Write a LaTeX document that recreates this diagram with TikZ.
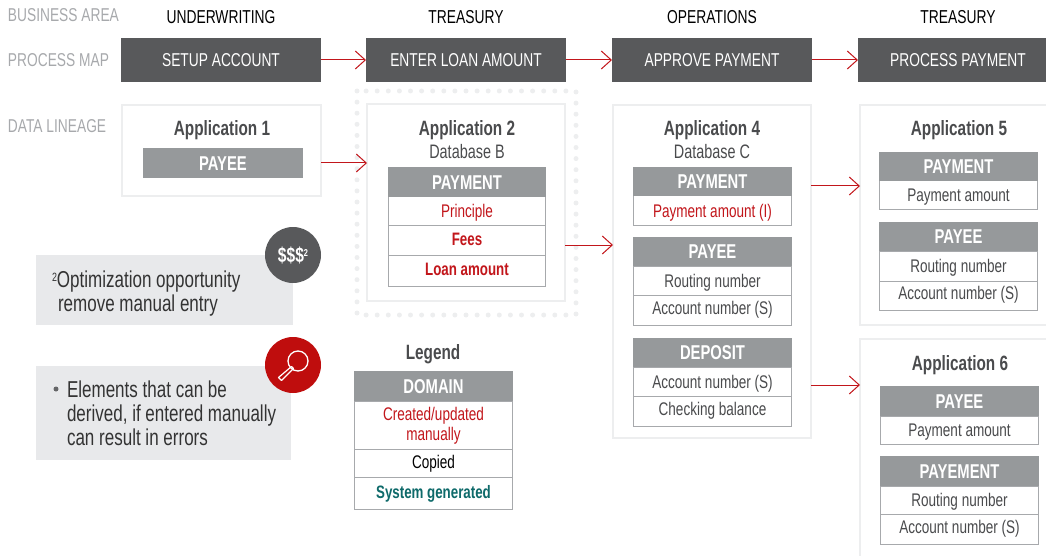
\documentclass[tikz,border=0pt]{standalone}
\usepackage{fontspec}
\setmainfont[FakeStretch=0.74]{Liberation Sans}
\usetikzlibrary{arrows.meta}
\definecolor{barc}{HTML}{58595B}
\definecolor{hdrc}{HTML}{96999B}
\definecolor{linec}{HTML}{A7A9AC}
\definecolor{panelc}{HTML}{E8E9EB}
\definecolor{edgec}{HTML}{EDEEEF}
\definecolor{redc}{HTML}{C2161B}
\definecolor{badgec}{HTML}{BF0D0D}
\definecolor{tealc}{HTML}{0E6A6A}
\definecolor{txtc}{HTML}{4A4B4D}
\definecolor{lblc}{HTML}{A7A9AC}
\newcommand{\bx}[7]{\node[#6,anchor=north west,minimum width=#4,minimum height=#5] (#1) at (#2,#3) {#7};}
\newcommand{\cb}[7]{\node[#6,anchor=north west,minimum width=#4-1,minimum height=#5] (#1) at (#2+.5,#3) {#7};}
\tikzset{
 x=1pt,y=-1pt,
 every node/.style={inner sep=0pt,outer sep=0pt,align=center,text depth=0pt},
 sz/.style={font=\fontsize{#1}{#1}\selectfont},
 up/.style={text height=#1},
 bar/.style={fill=barc,text=white,sz=18.6},
 head/.style={sz=18.7,text=black},
 lbl/.style={sz=18.6,text=lblc,anchor=west},
 panel/.style={draw=edgec,line width=1.5pt,fill=white},
 hdr/.style={fill=hdrc,text=white,font=\fontsize{20}{20}\selectfont\bfseries,text height=14.5pt},
 cell/.style={draw=linec,line width=1pt,fill=white,text=txtc,sz=18.3},
 redcell/.style={cell,text=redc},
 redbold/.style={cell,text=redc,font=\fontsize{18}{18}\selectfont\bfseries},
 tealbold/.style={cell,text=tealc,font=\fontsize{18}{18}\selectfont\bfseries},
 blackcell/.style={cell,text=black},
 title/.style={text=txtc,font=\fontsize{20.7}{20.7}\selectfont\bfseries},
 sub/.style={text=txtc,sz=19.5},
 note/.style={fill=panelc},
 notetext/.style={sz=23,text=black!80,anchor=base west,align=left},
 arr/.style={draw=redc,line width=1pt,-{Straight Barb[length=10pt,width=18pt,line width=1pt]}},
}
\begin{document}
\begin{tikzpicture}
\useasboundingbox (0,0) rectangle (1046,556);
\clip (0,0) rectangle (1046,556);
% row labels
\node[lbl] (l1) at (8,15) {BUSINESS AREA};
\node[lbl] (l2) at (8,60) {PROCESS MAP};
\node[lbl] (l3) at (8,126) {DATA LINEAGE};
% headers
\node[head] (h1) at (221,17) {UNDERWRITING};
\node[head] (h2) at (466,17) {TREASURY};
\node[head] (h3) at (712,17) {OPERATIONS};
\node[head] (h4) at (958,17) {TREASURY};
% process map
\bx{b1}{121}{38}{200}{44}{bar}{SETUP ACCOUNT}
\bx{b2}{366}{38}{200}{44}{bar}{ENTER LOAN AMOUNT}
\bx{b3}{612}{38}{200}{44}{bar}{APPROVE PAYMENT}
\bx{b4}{858}{38}{200}{44}{bar}{PROCESS PAYMENT}
% dotted surround
\draw[edgec,line width=5pt,line cap=round,dash pattern=on 0pt off 11.1pt] (357,91) rectangle (576,315);
% panels
\bx{a1}{122}{105}{199}{91}{panel}{}
\bx{a2}{367}{104}{198}{197}{panel}{}
\bx{a4}{613}{105}{198}{333}{panel}{}
\bx{a5}{860}{105}{198}{220}{panel}{}
\bx{a6}{860}{339}{198}{230}{panel}{}
% application 1
\node[title] (t1) at (222,128) {Application 1};
\bx{p1h}{143}{148}{160}{30}{hdr}{PAYEE}
% application 2
\node[title] (t2) at (467,128) {Application 2};
\node[sub] (d2) at (467,151.5) {Database B};
\cb{c21}{388}{197}{158}{28}{redcell}{Principle}
\cb{c22}{388}{225}{158}{30}{redbold,up=10.5pt}{Fees}
\cb{c23}{388}{255}{158}{31}{redbold,up=10.5pt}{Loan amount}
\bx{h21}{388}{167}{158}{30}{hdr}{PAYMENT}
% application 4
\node[title] (t4) at (712,128) {Application 4};
\node[sub] (d4) at (712,151.5) {Database C};
\cb{c41}{633}{196}{159}{29}{redcell}{Payment amount (I)}
\bx{h41}{633}{167}{159}{29}{hdr}{PAYMENT}
\cb{c42}{633}{266}{159}{29}{cell}{Routing number}
\cb{c43}{633}{295}{159}{30}{cell,up=8.5pt}{Account number (S)}
\bx{h42}{633}{237}{159}{29}{hdr}{PAYEE}
\cb{c44}{633}{367}{159}{29}{cell}{Account number (S)}
\cb{c45}{633}{396}{159}{30}{cell,up=8.5pt}{Checking balance}
\bx{h43}{633}{338}{159}{29}{hdr}{DEPOSIT}
% application 5
\node[title] (t5) at (959,128) {Application 5};
\cb{c51}{879}{181}{159}{28}{cell}{Payment amount}
\bx{h51}{879}{152}{159}{29}{hdr}{PAYMENT}
\cb{c52}{879}{251}{159}{30}{cell}{Routing number}
\cb{c53}{879}{281}{159}{29}{cell,up=7.5pt}{Account number (S)}
\bx{h52}{879}{222}{159}{29}{hdr}{PAYEE}
% application 6
\node[title] (t6) at (960,363) {Application 6};
\cb{c61}{880}{416}{159}{28}{cell}{Payment amount}
\bx{h61}{880}{386}{159}{30}{hdr}{PAYEE}
\cb{c62}{880}{486}{159}{28}{cell}{Routing number}
\cb{c63}{880}{514}{159}{30}{cell,up=8.5pt}{Account number (S)}
\bx{h62}{880}{456}{159}{30}{hdr}{PAYEMENT}
% legend
\node[title] (lt) at (433,352) {Legend};
\cb{g1}{354}{401}{159}{48}{redcell}{}
\node[text=redc,sz=18.3] (g1a) at (433.5,414) {Created/updated};
\node[text=redc,sz=18.3] (g1b) at (433.5,434) {manually};
\cb{g2}{354}{449}{159}{28}{blackcell,up=10.5pt}{Copied}
\cb{g3}{354}{477}{159}{32}{tealbold,up=10.5pt}{System generated}
\bx{gh}{354}{371}{159}{30}{hdr}{DOMAIN}
% notes
\bx{n1}{36}{255}{257}{70}{note}{}
\bx{n2}{36}{366}{255}{94}{note}{}
\node[notetext] (n1a) at (52,287.5) {\raisebox{6pt}{\fontsize{12}{12}\selectfont 2}Optimization opportunity};
\node[notetext] (n1b) at (58,311.5) {remove manual entry};
\node[fill=txtc!85,circle,minimum size=5pt] (bl) at (56,389) {};
\node[notetext] (n2a) at (67,397) {Elements that can be};
\node[notetext] (n2b) at (67,421) {derived, if entered manually};
\node[notetext] (n2c) at (67,445.5) {can result in errors};
% badges
\node[circle,fill=barc,minimum size=56pt,text=white,font=\fontsize{21}{21}\selectfont\bfseries] (c1) at (293,255) {\$\$\$\raisebox{6pt}{\fontsize{10}{10}\selectfont 2}};
\node[circle,fill=badgec,minimum size=56pt] (c2) at (293,365) {};
\draw[white,line width=1.3pt] (298,361) circle (10);
\draw[white,line width=1.2pt,line join=round] (291.5,366.5) -- (293.5,368.5) -- (281.5,380.5) -- (278.5,377.5) -- cycle;
% connectors
\draw[arr] (b1.east) -- (b2.west);
\draw[arr] (b2.east) -- (b3.west);
\draw[arr] (b3.east) -- (b4.west);
\coordinate (y1) at (0,163);
\coordinate (y2) at (0,245);
\coordinate (y3) at (0,186);
\coordinate (y4) at (0,385);
\draw[arr] (a1.east |- y1) -- (a2.west |- y1);
\draw[arr] (a2.east |- y2) -- (a4.west |- y2);
\draw[arr] (a4.east |- y3) -- (a5.west |- y3);
\draw[arr] (a4.east |- y4) -- (a6.west |- y4);
\end{tikzpicture}
\end{document}
